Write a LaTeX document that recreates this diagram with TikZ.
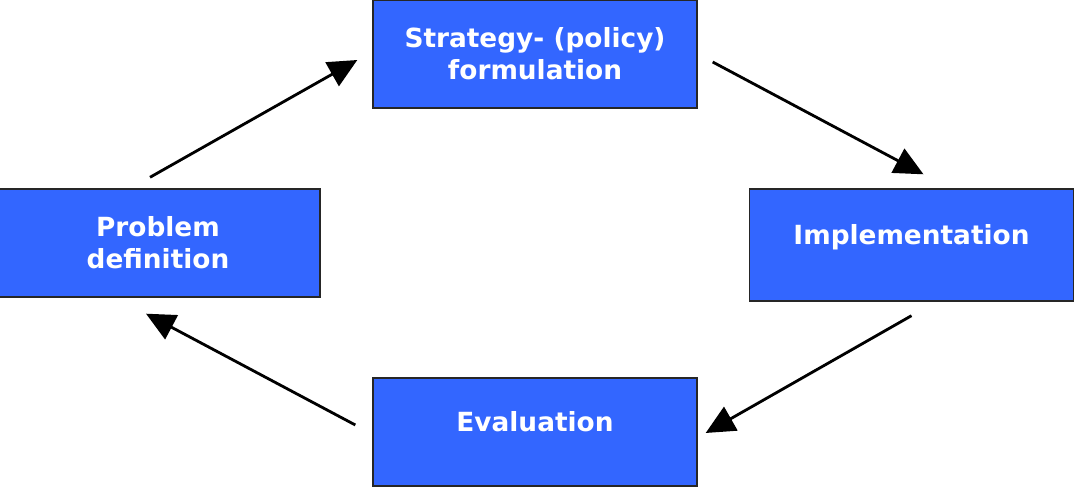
\documentclass[tikz,border=0pt]{standalone}
\usepackage{fontspec}
\setmainfont{DejaVu Sans}
\usetikzlibrary{arrows.meta}
\definecolor{boxblue}{HTML}{3366FF}
\tikzset{
  stagebox/.style={draw=black!85, line width=0.8pt, fill=boxblue, text=white,
    font=\bfseries\fontsize{15}{18.2}\selectfont, align=center,
    minimum width=6.48cm, minimum height=2.16cm, inner sep=0pt},
  oneline/.style={text depth=12pt},
  cyclearrow/.style={line width=1.6pt, -{Triangle[length=0.58cm, width=0.54cm]}}
}
\begin{document}
\begin{tikzpicture}[x=0.02cm, y=-0.02cm]
\useasboundingbox (0,0) rectangle (1083,489);
\node[stagebox] (strategy) at (535,54) {Strategy- (policy)\\formulation};
\node[stagebox] (problem) at (158,243) {Problem\\definition};
\node[stagebox, oneline, minimum height=2.24cm] (implementation) at (911.5,245) {Implementation};
\node[stagebox, oneline] (evaluation) at (535,432) {Evaluation};
\coordinate (p1) at ([shift={(-8,-11)}]problem.north);
\coordinate (s1) at ([shift={(-15,6)}]strategy.west);
\coordinate (s2) at ([shift={(15,8)}]strategy.east);
\coordinate (i1) at ([shift={(12,-14)}]implementation.north);
\coordinate (i2) at ([shift={(0,14)}]implementation.south);
\coordinate (e1) at ([shift={(8,1)}]evaluation.east);
\coordinate (e2) at ([shift={(-17,-7)}]evaluation.west);
\coordinate (p2) at ([shift={(-12,16)}]problem.south);
\draw[cyclearrow] (p1) -- (s1);
\draw[cyclearrow] (s2) -- (i1);
\draw[cyclearrow] (i2) -- (e1);
\draw[cyclearrow] (e2) -- (p2);
\end{tikzpicture}
\end{document}
